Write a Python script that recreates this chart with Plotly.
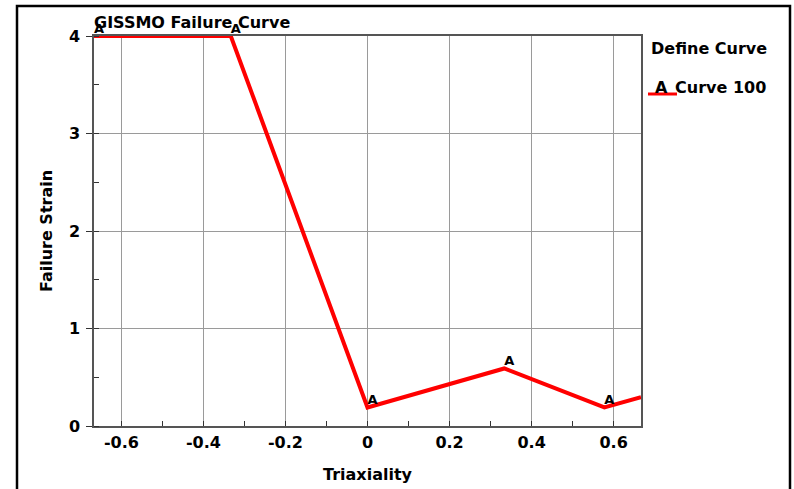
import plotly.graph_objects as go

# GISSMO failure curve: triaxiality vs failure strain
triaxiality = [-0.6667, -0.3333, 0.0, 0.3333, 0.5774, 0.6667]
failure_strain = [4.0, 4.0, 0.19, 0.59, 0.19, 0.295]
point_labels = ["A", "A", "A", "A", "A", ""]

x_tick_values = [-0.6, -0.4, -0.2, 0.0, 0.2, 0.4, 0.6]
x_tick_text = ["-0.6", "-0.4", "-0.2", "0", "0.2", "0.4", "0.6"]
y_tick_values = [0, 1, 2, 3, 4]
y_tick_text = ["0", "1", "2", "3", "4"]

curve_name = "Curve 100"
legend_title = "Define Curve"
chart_title = "GISSMO Failure Curve"

FONT = "DejaVu Sans"
RED = "#ff0000"

fig = go.Figure()
fig.add_trace(go.Scatter(
    x=triaxiality, y=failure_strain,
    mode="lines+text",
    text=point_labels,
    textposition="top right",
    textfont=dict(family=FONT, size=13, color="black", weight="bold"),
    line=dict(color=RED, width=4),
    cliponaxis=False,
    showlegend=False,
    name=curve_name,
))

W, H = 794, 489
L, R, T, B = 94, 153, 36, 63
pw, ph = W - L - R, H - T - B


def px(x):
    return (x - L) / pw


def py(y):
    return (H - B - y) / ph


axis_font = dict(family=FONT, size=16, color="black", weight="bold")

fig.update_layout(
    width=W, height=H,
    margin=dict(l=L, r=R, t=T, b=B, autoexpand=False),
    paper_bgcolor="white", plot_bgcolor="white",
    title=dict(text=chart_title, x=px(94), xref="paper", xanchor="left",
               y=1 - 22 / H, yanchor="middle", font=axis_font),
    xaxis=dict(
        range=[-0.6667, 0.6667], automargin=False,
        tickvals=x_tick_values, ticktext=x_tick_text,
        showgrid=True, gridcolor="#9a9a9a", gridwidth=1,
        showline=True, linecolor="#555555", linewidth=1.5, mirror=True,
        zeroline=False, ticks="", ticklabelstandoff=1,
        tickfont=axis_font,
        minor=dict(dtick=0.1, tick0=0, ticks="inside", ticklen=5,
                   tickcolor="#333333", showgrid=False),
        title=dict(text="Triaxiality", font=axis_font, standoff=18),
    ),
    yaxis=dict(
        range=[0, 4], automargin=False,
        tickvals=y_tick_values, ticktext=y_tick_text,
        showgrid=True, gridcolor="#9a9a9a", gridwidth=1,
        showline=True, linecolor="#555555", linewidth=1.5, mirror=True,
        zeroline=False, ticks="outside", ticklen=6, tickcolor="#333333",
        ticklabelstandoff=3,
        tickfont=axis_font,
        minor=dict(dtick=0.5, ticks="inside", ticklen=5,
                   tickcolor="#333333", showgrid=False),
        title=dict(text="Failure Strain", font=axis_font, standoff=12),
    ),
    shapes=[
        # outer frame
        dict(type="rect", xref="paper", yref="paper",
             x0=px(17), x1=px(790), y0=py(500), y1=py(6),
             line=dict(color="black", width=2.5), fillcolor="rgba(0,0,0,0)"),
        # legend swatch
        dict(type="line", xref="paper", yref="paper",
             x0=px(648), x1=px(677), y0=py(94), y1=py(94),
             line=dict(color=RED, width=3)),
    ],
    annotations=[
        dict(text=legend_title, xref="paper", yref="paper",
             x=px(649), y=py(48), xanchor="left", yanchor="middle",
             showarrow=False, font=axis_font),
        dict(text="A", xref="paper", yref="paper",
             x=px(662), y=py(87), xanchor="center", yanchor="middle",
             showarrow=False, font=axis_font),
        dict(text=curve_name, xref="paper", yref="paper",
             x=px(673), y=py(87), xanchor="left", yanchor="middle",
             showarrow=False, font=axis_font),
    ],
)

fig.write_html("out.html")
